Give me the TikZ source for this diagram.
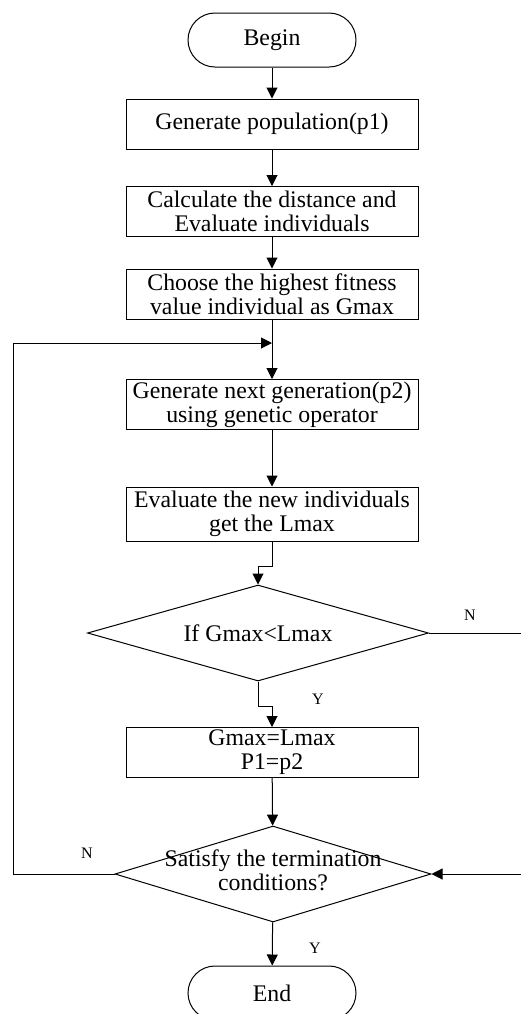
\documentclass[tikz,border=0pt]{standalone}
\usepackage{fontspec}
\setmainfont{Liberation Serif}
\usetikzlibrary{arrows.meta,shapes.geometric}

\begin{document}
\begin{tikzpicture}[x=0.5pt,y=-0.5pt,line width=0.5pt,
    every node/.style={font=\fontsize{11.9}{12}\selectfont},
    term/.style={draw,rectangle,rounded corners=13.5pt,minimum width=84pt,minimum height=27pt,inner sep=0pt},
    proc/.style={draw,rectangle,minimum width=146pt,minimum height=25pt,inner sep=0pt,align=center},
    decide/.style={draw,diamond,shape aspect=3.5,inner sep=0pt,align=center},
    yn/.style={font=\fontsize{8}{9}\selectfont},
    flow/.style={-{Triangle[length=5.5pt,width=5.5pt]}}]
    \useasboundingbox (0,0) rectangle (521,1014);
    \node[term] (begin) at (272,40) {Begin};
    \node[proc] (gen) at (272,124) {Generate population(p1)};
    \node[proc] (calc) at (272,211.5) {Calculate the distance and\\Evaluate individuals};
    \node[proc] (choose) at (272,294) {Choose the highest fitness\\value individual as Gmax};
    \node[proc] (next) at (272,404.5) {Generate next generation(p2)\\using genetic operator};
    \node[proc,minimum height=27pt] (eval) at (272,514) {Evaluate the new individuals\\get the Lmax};
    \node[decide,minimum width=170.5pt,minimum height=48pt] (if) at (258,633) {If Gmax<Lmax};
    \node[proc] (set) at (272,752.5) {Gmax=Lmax\\P1=p2};
    \node[decide,minimum width=158pt,minimum height=48pt] (sat) at (273,874)
        {\makebox[0pt]{\begin{tabular}{@{}c@{}}Satisfy the termination\\conditions?\end{tabular}}};
    \node[term] (end) at (272,993) {End};
    \node[yn] (ny) at (470,615) {N};
    \node[yn] (yy) at (318,699) {Y};
    \node[yn] (ns) at (87,853) {N};
    \node[yn] (ys) at (315,948) {Y};
    \coordinate (rA) at (521,633);
    \coordinate (rB) at (521,874);
    \coordinate (lp) at (13,343);
    \coordinate (join) at (272,343);
    \draw[flow] (begin) -- (gen);
    \draw[flow] (gen) -- (calc);
    \draw[flow] (calc) -- (choose);
    \draw[flow] (choose) -- (next);
    \draw[flow] (next) -- (eval);
    \draw[flow] (eval.south) -- ++(0,25) -| (if.north);
    \draw[flow] (if.south) -- ++(0,25) -| (set.north);
    \draw (if.east) -- (rA);
    \draw[flow] (set) -- (sat);
    \draw[flow] (rB) -- (sat.east);
    \draw[flow] (sat.west) -| (lp) -- (join);
    \draw[flow] (sat) -- (end);
\end{tikzpicture}
\end{document}
